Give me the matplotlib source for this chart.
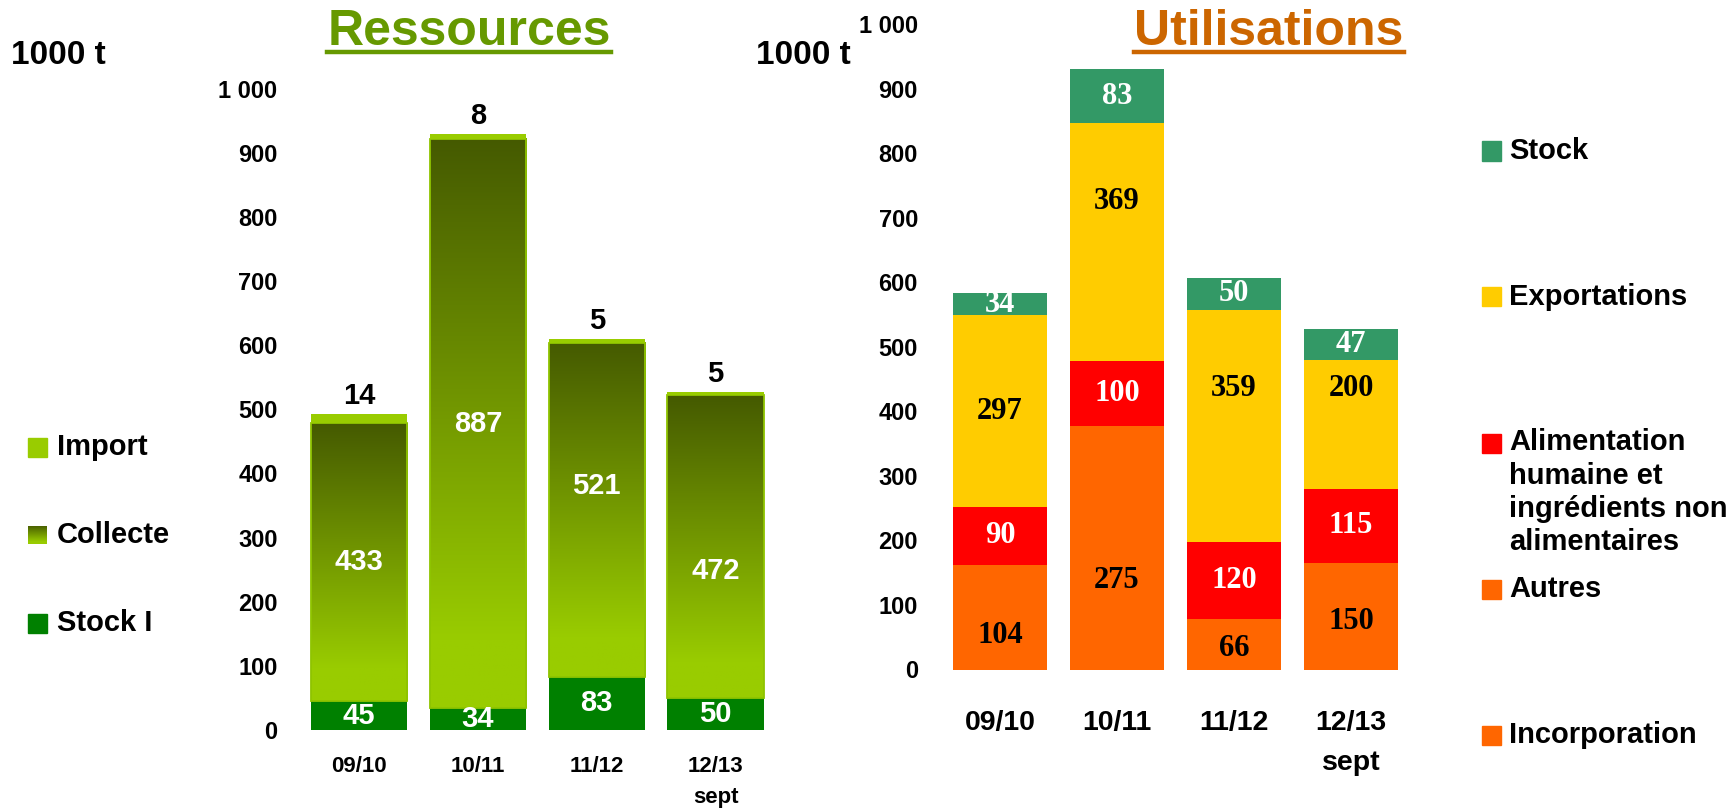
import numpy as np
import matplotlib
matplotlib.use('Agg')
import matplotlib.pyplot as plt
from matplotlib.colors import LinearSegmentedColormap
from matplotlib.lines import Line2D
from matplotlib.patches import Rectangle
from matplotlib.ticker import FuncFormatter, MultipleLocator

plt.rcParams['font.family'] = ['Liberation Sans', 'DejaVu Sans']
plt.rcParams['font.weight'] = 'bold'

campagnes = ['09/10', '10/11', '11/12', '12/13\nsept']

# Ressources, 1000 t
stock_initial = [45, 34, 83, 50]
collecte = [433, 887, 521, 472]
imports = [14, 8, 5, 5]

# Utilisations, 1000 t
incorporation = [104, 275, 66, 150]
autres = [58, 103, 12, 15]
alimentation = [90, 100, 120, 115]
exportations = [297, 369, 359, 200]
stock_final = [34, 83, 50, 47]

# where the value sits inside its segment (0 = bottom, 1 = top)
collecte_label_pos = [0.50, 0.50, 0.57, 0.42]
export_label_pos = [0.50, 0.67, 0.66, 0.78]

W, H = 1735, 809
fig = plt.figure(figsize=(W / 100, H / 100), dpi=100)


def box(x0, x1, ytop, ybot):
    return [x0 / W, 1 - ybot / H, (x1 - x0) / W, (ybot - ytop) / H]


def fx(x):
    return x / W


def fy(y):
    return 1 - y / H


def milliers(v, pos):
    return f'{int(v):,}'.replace(',', ' ')


def style_axes(ax, ypad, xpad, xsize, linesp):
    ax.set_xlim(-0.5, 3.5)
    ax.set_ylim(0, 1000)
    ax.yaxis.set_major_locator(MultipleLocator(100))
    ax.yaxis.set_major_formatter(FuncFormatter(milliers))
    for s in ax.spines.values():
        s.set_visible(False)
    ax.tick_params(axis='y', length=0, pad=ypad, labelsize=17)
    ax.tick_params(axis='x', length=0, pad=xpad, labelsize=xsize)
    ax.set_xticks(range(len(campagnes)))
    ax.set_xticklabels(campagnes, fontweight='bold', linespacing=linesp)


x = np.arange(len(campagnes))

# ---- Ressources
ax1 = fig.add_axes(box(299.8, 774.9, 88.5, 730))
bw1 = 0.81
grad_cmap = LinearSegmentedColormap.from_list(
    'collecte', [(0, '#99CC00'), (0.12, '#99CC00'), (1, '#455A00')])
grad = np.linspace(0, 1, 256).reshape(-1, 1)

ax1.bar(x, stock_initial, bw1, color='#008000', zorder=2)
for xi, b, h in zip(x, stock_initial, collecte):
    ax1.imshow(grad, cmap=grad_cmap, aspect='auto', origin='lower',
               extent=[xi - bw1 / 2, xi + bw1 / 2, b, b + h], zorder=2)
ax1.bar(x, collecte, bw1, bottom=stock_initial, fill=False,
        edgecolor='#8FC400', lw=1.3, zorder=3)
top_collecte = np.add(stock_initial, collecte)
ax1.bar(x, imports, bw1, bottom=top_collecte, color='#99CC00', zorder=3)
style_axes(ax1, 16, 19, 16, 1.62)

for xi, v in zip(x, stock_initial):
    ax1.text(xi, v / 2, str(v), color='white', ha='center', va='center',
             fontsize=21, fontweight='bold', zorder=4)
for xi, b, v, p in zip(x, stock_initial, collecte, collecte_label_pos):
    ax1.text(xi, b + v * p, str(v), color='white', ha='center', va='center',
             fontsize=21, fontweight='bold', zorder=4)
for xi, b, v in zip(x, top_collecte, imports):
    ax1.annotate(str(v), (xi, b + v), xytext=(0, 3), textcoords='offset points',
                 ha='center', va='bottom', fontsize=21, fontweight='bold')

# ---- Utilisations
ax2 = fig.add_axes(box(941.5, 1409.5, 24.3, 669.5))
bw2 = 0.80
layers = [
    (incorporation, '#FF6600'),
    (autres, '#FF6600'),
    (alimentation, '#FF0000'),
    (exportations, '#FFCC00'),
    (stock_final, '#339966'),
]
bottoms = []
base = np.zeros(len(campagnes))
for vals, col in layers:
    ax2.bar(x, vals, bw2, bottom=base, color=col, zorder=2)
    bottoms.append(base.copy())
    base = base + np.array(vals)
style_axes(ax2, 17, 29, 20.5, 1.7)

serif = dict(family=['Liberation Serif', 'DejaVu Serif'], fontsize=22,
             fontweight='bold', ha='center', va='center', zorder=4)
for xi, b, v in zip(x, bottoms[0], incorporation):
    ax2.text(xi, b + v / 2, str(v), color='black', **serif)
for xi, b, v in zip(x, bottoms[2], alimentation):
    ax2.text(xi, b + v / 2, str(v), color='white', **serif)
for xi, b, v, p in zip(x, bottoms[3], exportations, export_label_pos):
    ax2.text(xi, b + v * p, str(v), color='black', **serif)
for xi, b, v in zip(x, bottoms[4], stock_final):
    ax2.text(xi, b + v / 2, str(v), color='white', **serif)

# ---- units and titles
fig.text(fx(11), fy(55), '1000 t', fontsize=24, fontweight='bold', va='center')
fig.text(fx(756), fy(55), '1000 t', fontsize=24, fontweight='bold', va='center')

titres = [
    (fig.text(fx(469), fy(45), 'Ressources', fontsize=36, fontweight='bold',
              color='#669900', ha='center', va='baseline'), '#669900'),
    (fig.text(fx(1269), fy(45), 'Utilisations', fontsize=36, fontweight='bold',
              color='#CC6600', ha='center', va='baseline'), '#CC6600'),
]
fig.canvas.draw()
rend = fig.canvas.get_renderer()
for t, col in titres:
    bb = t.get_window_extent(rend)
    fig.add_artist(Line2D([bb.x0 / W, bb.x1 / W], [fy(52), fy(52)],
                          color=col, lw=3.2, transform=fig.transFigure))

# ---- legends
leg_font = dict(fontsize=21, fontweight='bold', va='center')
sq = 19

# Ressources legend
fig.add_artist(Rectangle((fx(28), fy(447 + sq / 2)), sq / W, sq / H,
                         color='#99CC00', transform=fig.transFigure))
ax_sq = fig.add_axes(box(28, 28 + sq, 535 - sq / 2, 535 + sq / 2))
ax_sq.imshow(grad, cmap=grad_cmap, aspect='auto', origin='lower')
ax_sq.axis('off')
fig.add_artist(Rectangle((fx(28), fy(623 + sq / 2)), sq / W, sq / H,
                         color='#008000', transform=fig.transFigure))
fig.text(fx(57), fy(447), 'Import', **leg_font)
fig.text(fx(57), fy(535), 'Collecte', **leg_font)
fig.text(fx(57), fy(623), 'Stock I', **leg_font)

# Utilisations legend
leg2 = [
    ('Stock', '#339966', 151),
    ('Exportations', '#FFCC00', 297),
    ('Autres', '#FF6600', 589),
    ('Incorporation', '#FF6600', 735),
]
for lab, col, yc in leg2:
    fig.add_artist(Rectangle((fx(1482), fy(yc + sq / 2)), sq / W, sq / H,
                             color=col, transform=fig.transFigure))
    fig.text(fx(1509), fy(yc), lab, **leg_font)
fig.add_artist(Rectangle((fx(1482), fy(443 + sq / 2)), sq / W, sq / H,
                         color='#FF0000', transform=fig.transFigure))
fig.text(fx(1509), fy(428), 'Alimentation\nhumaine et\ningrédients non\nalimentaires',
         fontsize=21, fontweight='bold', va='top', linespacing=1.25)

fig.savefig('out.png', dpi=100)
